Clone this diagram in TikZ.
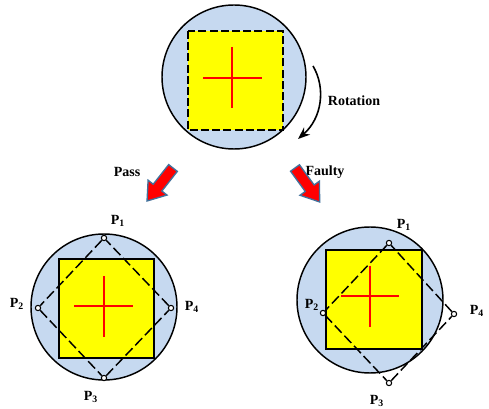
\documentclass[tikz,border=0pt]{standalone}
\usepackage{fontspec}
\setmainfont{Liberation Serif}
\usetikzlibrary{arrows.meta}
\definecolor{disc}{HTML}{C6D9F0}
\definecolor{sq}{HTML}{FFFF00}
\definecolor{crossred}{HTML}{FF0000}
\definecolor{arrline}{HTML}{41719C}
\tikzset{
  disk/.style={draw=black, line width=1.1pt, fill=disc},
  sqbox/.style={draw=black, line width=0.8pt, fill=sq},
  sqdash/.style={draw=black, line width=1.5pt, fill=sq, dash pattern=on 6pt off 2.4pt},
  crossline/.style={draw=crossred, line width=1.2pt},
  diag/.style={draw=black, line width=1.1pt, dash pattern=on 7.5pt off 3pt},
  vtx/.style={circle, draw=black, fill=white, line width=0.8pt, inner sep=0pt, minimum size=4pt},
  lbl/.style={font=\fontsize{10.5}{12}\selectfont\bfseries, inner sep=0pt},
  blockarrow/.style={fill=crossred, draw=arrline, line width=1pt, line join=miter},
}
\newcommand{\plab}[1]{P\textsubscript{#1}}
\begin{document}
\begin{tikzpicture}[x=0.75pt,y=-0.75pt]
\useasboundingbox (0,0) rectangle (489,409);
% ---------- top ----------
\path[disk] (234,77) circle (72);
\path[sqdash] (188,31) rectangle (283,130);
\draw[crossline] (203,78) -- (262,78);
\draw[crossline] (232,47) -- (232,108);
\coordinate (rs) at (313,66);
\coordinate (re) at (298,139);
\draw[line width=1.2pt, -{Stealth[length=9pt,width=7pt]}] (rs) .. controls (326,88) and (322,118) .. (re);
\node[lbl] (rot) at (354,101) {Rotation};
% ---------- block arrows ----------
\node[lbl] (pass) at (127,172) {Pass};
\node[lbl] (faulty) at (325,172) {Faulty};
\begin{scope}[shift={(173,168)}, rotate=-128.2]
  \path[blockarrow] (0,-5.5) -- (25,-5.5) -- (25,-12) -- (42,0) -- (25,12) -- (25,5.5) -- (0,5.5) -- cycle;
\end{scope}
\begin{scope}[shift={(295,168)}, rotate=-54]
  \path[blockarrow] (0,-5.5) -- (25,-5.5) -- (25,-12) -- (42,0) -- (25,12) -- (25,5.5) -- (0,5.5) -- cycle;
\end{scope}
% ---------- bottom left (pass) ----------
\path[disk] (104,307) circle (73);
\path[sqbox] (59,259) rectangle (154,358);
\draw[crossline] (74,306) -- (133,306);
\draw[crossline] (104,276) -- (104,337);
\node[vtx] (a1) at (104,238) {};
\node[vtx] (a2) at (38,308) {};
\node[vtx] (a3) at (104,378) {};
\node[vtx] (a4) at (171,308) {};
\draw[diag] (a1) -- (a2) -- (a3) -- (a4) -- (a1);
\node[lbl] (la1) at (118,221) {\plab{1}};
\node[lbl] (la2) at (17,304) {\plab{2}};
\node[lbl] (la3) at (91,397) {\plab{3}};
\node[lbl] (la4) at (192,307) {\plab{4}};
% ---------- bottom right (faulty) ----------
\path[disk] (370,300) circle (73);
\path[sqbox] (326,250) rectangle (422,349);
\draw[crossline] (341,296) -- (399,296);
\draw[crossline] (370,266) -- (370,327);
\node[vtx] (b1) at (389,243) {};
\node[vtx] (b2) at (323,313) {};
\node[vtx] (b3) at (389,383) {};
\node[vtx] (b4) at (454,314) {};
\draw[diag] (b1) -- (b2) -- (b3) -- (b4) -- (b1);
\node[lbl] (lb1) at (404,225) {\plab{1}};
\node[lbl] (lb2) at (312,305) {\plab{2}};
\node[lbl] (lb3) at (377,401) {\plab{3}};
\node[lbl] (lb4) at (477,311) {\plab{4}};
\end{tikzpicture}
\end{document}
